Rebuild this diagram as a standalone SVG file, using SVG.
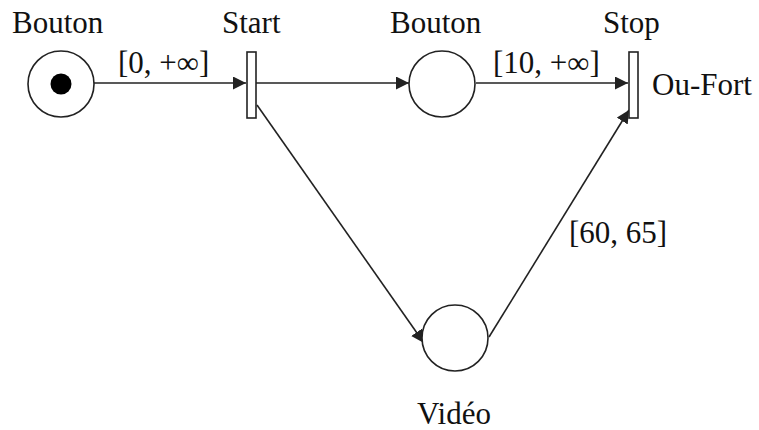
<svg xmlns="http://www.w3.org/2000/svg" width="759" height="430" viewBox="0 0 759 430">
<defs>
<style>
text{font-family:"Liberation Serif","Times New Roman",serif;font-size:31px;fill:#111}
.pl{fill:#fff;stroke:#222;stroke-width:1.6}
.tr{fill:#fff;stroke:#222;stroke-width:1.6}
.arc{fill:none;stroke:#222;stroke-width:1.6;marker-end:url(#ah)}
</style>
<marker id="ah" viewBox="0 0 13 13" refX="13" refY="6.5" markerWidth="13" markerHeight="13" markerUnits="userSpaceOnUse" orient="auto">
<path d="M0,0 L13,6.5 L0,13 z" fill="#222"/>
</marker>
</defs>
<rect width="759" height="430" fill="#fff"/>
<g id="connectors">
<line class="arc" x1="94" y1="83" x2="246" y2="83"/>
<line class="arc" x1="256" y1="83" x2="409" y2="83"/>
<line class="arc" x1="476" y1="83" x2="628" y2="83"/>
<line class="arc" x1="257" y1="105" x2="424" y2="343"/>
<line class="arc" x1="489" y1="337" x2="629" y2="110"/>
<text x="118" y="73">[0, +∞]</text>
<text x="493" y="73">[10, +∞]</text>
<text x="569" y="243">[60, 65]</text>
</g>
<g id="p1">
<circle class="pl" cx="61" cy="84" r="33"/>
<circle cx="61" cy="84" r="10.5" fill="#000"/>
<text x="12" y="33">Bouton</text>
</g>
<g id="t_start">
<rect class="tr" x="247" y="52" width="9" height="66"/>
<text x="222" y="33">Start</text>
</g>
<g id="p2">
<circle class="pl" cx="442" cy="84" r="33"/>
<text x="390" y="33">Bouton</text>
</g>
<g id="t_stop">
<rect class="tr" x="629" y="52" width="9" height="66"/>
<text x="603" y="33">Stop</text>
<text x="652" y="95">Ou-Fort</text>
</g>
<g id="p_video">
<circle class="pl" cx="455" cy="338" r="33"/>
<text x="417" y="424">Vidéo</text>
</g>
</svg>
